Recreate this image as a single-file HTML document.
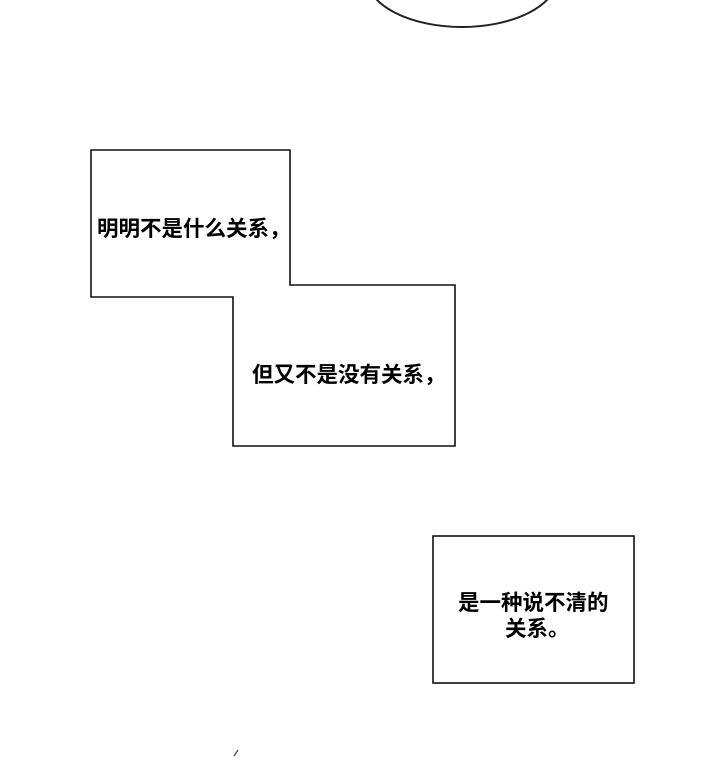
<!DOCTYPE html>
<html><head><meta charset="utf-8"><style>
body{margin:0;width:720px;height:758px;background:#fff;overflow:hidden}
svg{position:absolute;left:0;top:0}
text{font-family:"Liberation Sans","Noto Sans CJK SC",sans-serif;font-size:21.5px;font-weight:700;fill:#000}
</style></head><body>
<svg width="720" height="758" viewBox="0 0 720 758">
<ellipse cx="462" cy="-22" rx="95" ry="49" fill="none" stroke="#222" stroke-width="2"/>
<polygon points="91,150 290,150 290,285 455,285 455,446 233,446 233,297 91,297" fill="#fff" stroke="#111" stroke-width="1.6"/>
<text x="97" y="236">明明不是什么关系，</text>
<text x="252" y="382">但又不是没有关系，</text>
<rect x="433" y="536" width="201" height="147" fill="#fff" stroke="#111" stroke-width="1.6"/>
<text x="458" y="610">是一种说不清的</text>
<text x="505" y="636">关系。</text>
<path d="M234 756 L238 750" stroke="#444" stroke-width="1.2"/>
</svg>
</body></html>
